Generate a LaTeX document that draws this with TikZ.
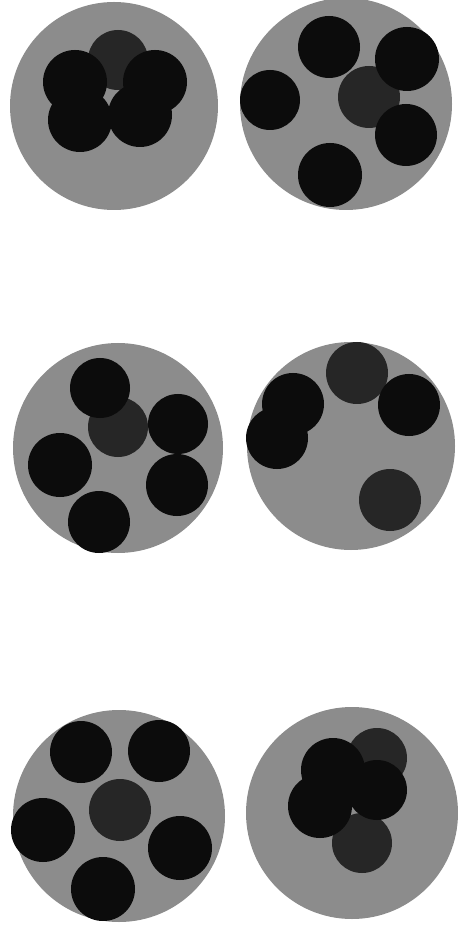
\documentclass[tikz,border=0pt]{standalone}
\usepackage{tikz}
\usepackage{xcolor}
\definecolor{dishgray}{RGB}{140,140,140}
\definecolor{cellblack}{RGB}{12,12,12}
\definecolor{cellgray}{RGB}{38,38,38}
\tikzset{
  dish/.style={fill=dishgray},
  cell/.style={fill=cellblack},
  paler/.style={fill=cellgray}
}

\begin{document}
\begin{tikzpicture}[x=0.02cm,y=-0.02cm]
\useasboundingbox (0,0) rectangle (457,928);
% dish centres
\coordinate (D1) at (114,106);
\coordinate (D2) at (346,104);
\coordinate (D3) at (118,448);
\coordinate (D4) at (351,446);
\coordinate (D5) at (119,816);
\coordinate (D6) at (352,813);
\fill[dish] (D1) circle (104);
\fill[dish] (D2) circle (106);
\fill[dish] (D3) circle (105);
\fill[dish] (D4) circle (104);
\fill[dish] (D5) circle (106);
\fill[dish] (D6) circle (106);
% top left: clumped
\fill[paler] (118,60) circle (30);
\fill[cell] (75,82) circle (32);
\fill[cell] (155,82) circle (32);
\fill[cell] (80,120) circle (32);
\fill[cell] (140,115) circle (32);
% top right: spread
\fill[paler] (369,97) circle (31);
\fill[cell] (329,47) circle (31);
\fill[cell] (407,59) circle (32);
\fill[cell] (270,100) circle (30);
\fill[cell] (406,135) circle (31);
\fill[cell] (330,175) circle (32);
% middle left
\fill[paler] (118,427) circle (30);
\fill[cell] (100,388) circle (30);
\fill[cell] (178,424) circle (30);
\fill[cell] (60,465) circle (32);
\fill[cell] (177,485) circle (31);
\fill[cell] (99,522) circle (31);
% middle right
\fill[paler] (357,373) circle (31);
\fill[cell] (409,405) circle (31);
\fill[cell] (293,404) circle (31);
\fill[cell] (277,438) circle (31);
\fill[paler] (390,500) circle (31);
% bottom left
\fill[paler] (120,810) circle (31);
\fill[cell] (81,752) circle (31);
\fill[cell] (159,751) circle (31);
\fill[cell] (43,830) circle (32);
\fill[cell] (180,848) circle (32);
\fill[cell] (103,889) circle (32);
% bottom right: clumped
\fill[paler] (362,843) circle (30);
\fill[paler] (377,758) circle (30);
\fill[cell] (377,790) circle (30);
\fill[cell] (333,770) circle (32);
\fill[cell] (320,806) circle (32);
\end{tikzpicture}
\end{document}
